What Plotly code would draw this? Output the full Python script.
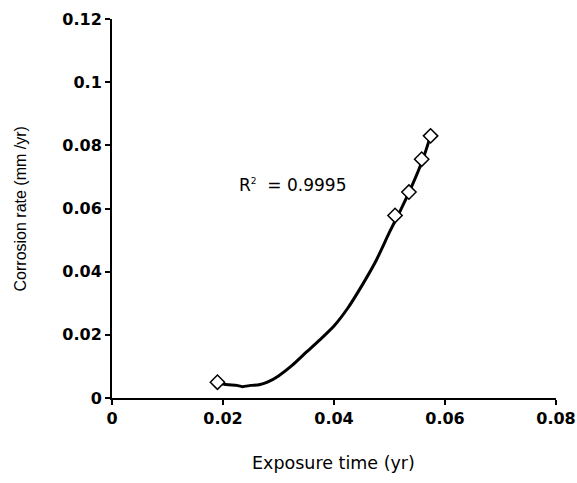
import plotly.graph_objects as go

# Measured data points (markers)
exposure_pts = [0.0190, 0.0510, 0.0535, 0.0558, 0.0574]
rate_pts = [0.0050, 0.0578, 0.0652, 0.0756, 0.0830]

# Fitted curve
curve_x = [0.0195, 0.0210, 0.0225, 0.0235, 0.0250, 0.0265, 0.0280, 0.0300, 0.0325,
           0.0350, 0.0375, 0.0400, 0.0425, 0.0450, 0.0475, 0.0500, 0.0520, 0.0540,
           0.0560, 0.0574]
curve_y = [0.0045, 0.0042, 0.0040, 0.0036, 0.0040, 0.0042, 0.0050, 0.0070, 0.0104,
           0.0145, 0.0185, 0.0228, 0.0285, 0.0355, 0.0432, 0.0525, 0.0595, 0.0670,
           0.0755, 0.0830]

x_ticks = [0, 0.02, 0.04, 0.06, 0.08]
x_ticklabels = ["0", "0.02", "0.04", "0.06", "0.08"]
y_ticks = [0, 0.02, 0.04, 0.06, 0.08, 0.10, 0.12]
y_ticklabels = ["0", "0.02", "0.04", "0.06", "0.08", "0.1", "0.12"]

fig = go.Figure()
fig.add_trace(go.Scatter(x=curve_x, y=curve_y, mode="lines",
                         line=dict(color="black", width=3, shape="spline", smoothing=0.6),
                         showlegend=False, hoverinfo="skip"))
fig.add_trace(go.Scatter(x=exposure_pts, y=rate_pts, mode="markers",
                         marker=dict(symbol="diamond", size=11, color="white",
                                     line=dict(color="black", width=1.5)),
                         showlegend=False))

wide_font = "DejaVu Sans, Arial, sans-serif"
arial = "Liberation Sans, Arial, sans-serif"
fig.update_layout(
    width=577, height=483,
    margin=dict(l=112, r=21, t=19, b=85, autoexpand=False),
    paper_bgcolor="white", plot_bgcolor="white",
    font=dict(family=wide_font, color="black", size=16),
    xaxis=dict(range=[0, 0.08], tickvals=x_ticks, ticktext=x_ticklabels,
               showgrid=False, zeroline=False, showline=True, linecolor="black",
               linewidth=2, ticks="outside", ticklen=5, tickwidth=1.5, tickcolor="black",
               automargin=False,
               tickfont=dict(family=wide_font, size=16, weight="bold")),
    yaxis=dict(range=[0, 0.12], tickvals=y_ticks, ticktext=y_ticklabels,
               showgrid=False, zeroline=False, showline=True, linecolor="black",
               linewidth=2, ticks="outside", ticklen=5, tickwidth=1.5, tickcolor="black",
               automargin=False,
               tickfont=dict(family=wide_font, size=16, weight="bold")),
    annotations=[
        dict(x=0.0226, y=0.0674, xref="x", yref="y", xanchor="left",
             yanchor="middle", showarrow=False,
             text="R<sup><span style='font-size:9px'>2</span></sup>  = 0.9995",
             font=dict(family=wide_font, size=17, color="black")),
        dict(x=0.498, y=-0.1715, xref="paper", yref="paper", xanchor="center",
             yanchor="middle", showarrow=False, text="Exposure time (yr)",
             font=dict(family=wide_font, size=17.5, color="black")),
        dict(x=-0.205, y=0.5, xref="paper", yref="paper", xanchor="center",
             yanchor="middle", showarrow=False, text="Corrosion rate (mm /yr)",
             textangle=-90,
             font=dict(family=arial, size=16, color="black")),
    ],
)

fig.write_html("out.html")
